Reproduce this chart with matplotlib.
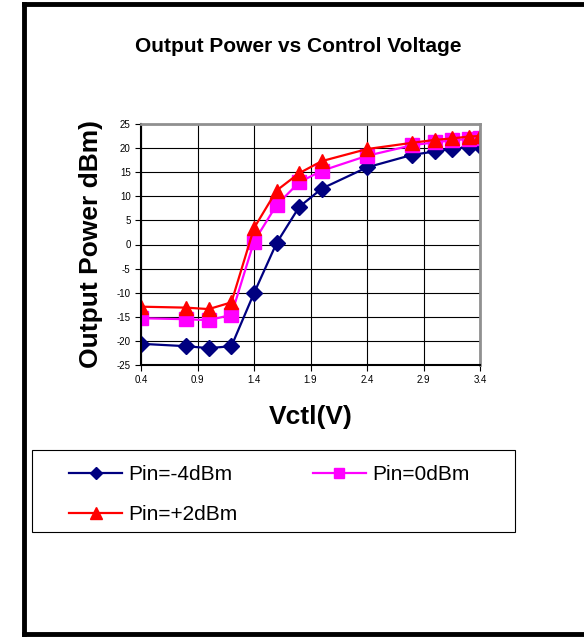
import matplotlib.pyplot as plt
from matplotlib.lines import Line2D
from matplotlib.patches import Rectangle

plt.rcParams['font.family'] = ['Liberation Sans', 'DejaVu Sans']
plt.rcParams['axes.unicode_minus'] = False

# Datos
vctl = [0.4, 0.8, 1.0, 1.2, 1.4, 1.6, 1.8, 2.0, 2.4, 2.8, 3.0, 3.15, 3.3, 3.4]
pin_m4 = [-20.6, -21.1, -21.5, -21.1, -10.1, 0.3, 7.8, 11.6, 16.0, 18.6, 19.3, 19.8, 20.2, 20.5]
pin_0 = [-15.3, -15.5, -15.7, -14.6, 0.6, 8.2, 12.9, 15.3, 18.4, 20.6, 21.2, 21.6, 21.9, 22.0]
pin_p2 = [-12.9, -13.1, -13.4, -12.0, 3.4, 11.2, 14.8, 17.3, 19.8, 21.1, 21.7, 22.0, 22.4, 22.5]

xticks = [0.4, 0.9, 1.4, 1.9, 2.4, 2.9, 3.4]
yticks = list(range(-25, 30, 5))

W, H = 584, 637
fig = plt.figure(figsize=(W / 100, H / 100), dpi=100)
ax = fig.add_axes([141 / W, 1 - 365 / H, (480 - 141) / W, (365 - 124) / H])

l1, = ax.plot(vctl, pin_m4, color='#000080', marker='D', markersize=8, lw=1.6, label='Pin=-4dBm')
l2, = ax.plot(vctl, pin_0, color='#ff00ff', marker='s', markersize=9.5, lw=1.6, label='Pin=0dBm')
l3, = ax.plot(vctl, pin_p2, color='#ff0000', marker='^', markersize=10, lw=1.6, label='Pin=+2dBm')

ax.set_xlim(0.4, 3.4)
ax.set_ylim(-25, 25)
ax.set_xticks(xticks)
ax.set_xticklabels([f'{v:.1f}' for v in xticks])
ax.set_yticks(yticks)
ax.tick_params(axis='both', labelsize=7, direction='out', length=4, width=0.8)
ax.grid(True, color='black', lw=0.8)
ax.set_axisbelow(True)
for s in ['top', 'right']:
    ax.spines[s].set_color('#909090')
    ax.spines[s].set_linewidth(2)
for s in ['left', 'bottom']:
    ax.spines[s].set_linewidth(1.5)

ax.set_xlabel('Vctl(V)', fontsize=19, fontweight='bold', va='center')
ax.xaxis.set_label_coords(0.5, (365 - 417) / 241)
ax.set_ylabel('Output Power dBm)', fontsize=19, fontweight='bold', va='center')
ax.yaxis.set_label_coords((91 - 141) / 339, 0.5)
fig.text(298 / W, 1 - 47 / H, 'Output Power vs Control Voltage', ha='center', va='center',
         fontsize=15, fontweight='bold')

# Leyenda con marco propio
fig.add_artist(Rectangle((32 / W, 1 - 532 / H), (515 - 32) / W, (532 - 450) / H,
                         transform=fig.transFigure, fill=False, edgecolor='black', lw=0.8))
leg = fig.legend([l1, l3, l2], ['Pin=-4dBm', 'Pin=+2dBm', 'Pin=0dBm'], ncol=2,
                 loc='upper left', bbox_to_anchor=(69 / W, 1 - 465 / H), fontsize=15,
                 frameon=False, handlelength=2.55, handletextpad=0.3, markerscale=0.8,
                 columnspacing=3.6, borderpad=0, borderaxespad=0, labelspacing=1.0)

# Marco exterior
fig.add_artist(Line2D([24 / W, 24 / W], [1 - 634 / H, 1 - 4 / H], color='black', lw=3.5))
fig.add_artist(Line2D([24 / W, 1], [1 - 4 / H, 1 - 4 / H], color='black', lw=3.5))
fig.add_artist(Line2D([24 / W, 1], [1 - 634 / H, 1 - 634 / H], color='black', lw=3.5))

plt.savefig('out.png', dpi=100)
plt.close()
